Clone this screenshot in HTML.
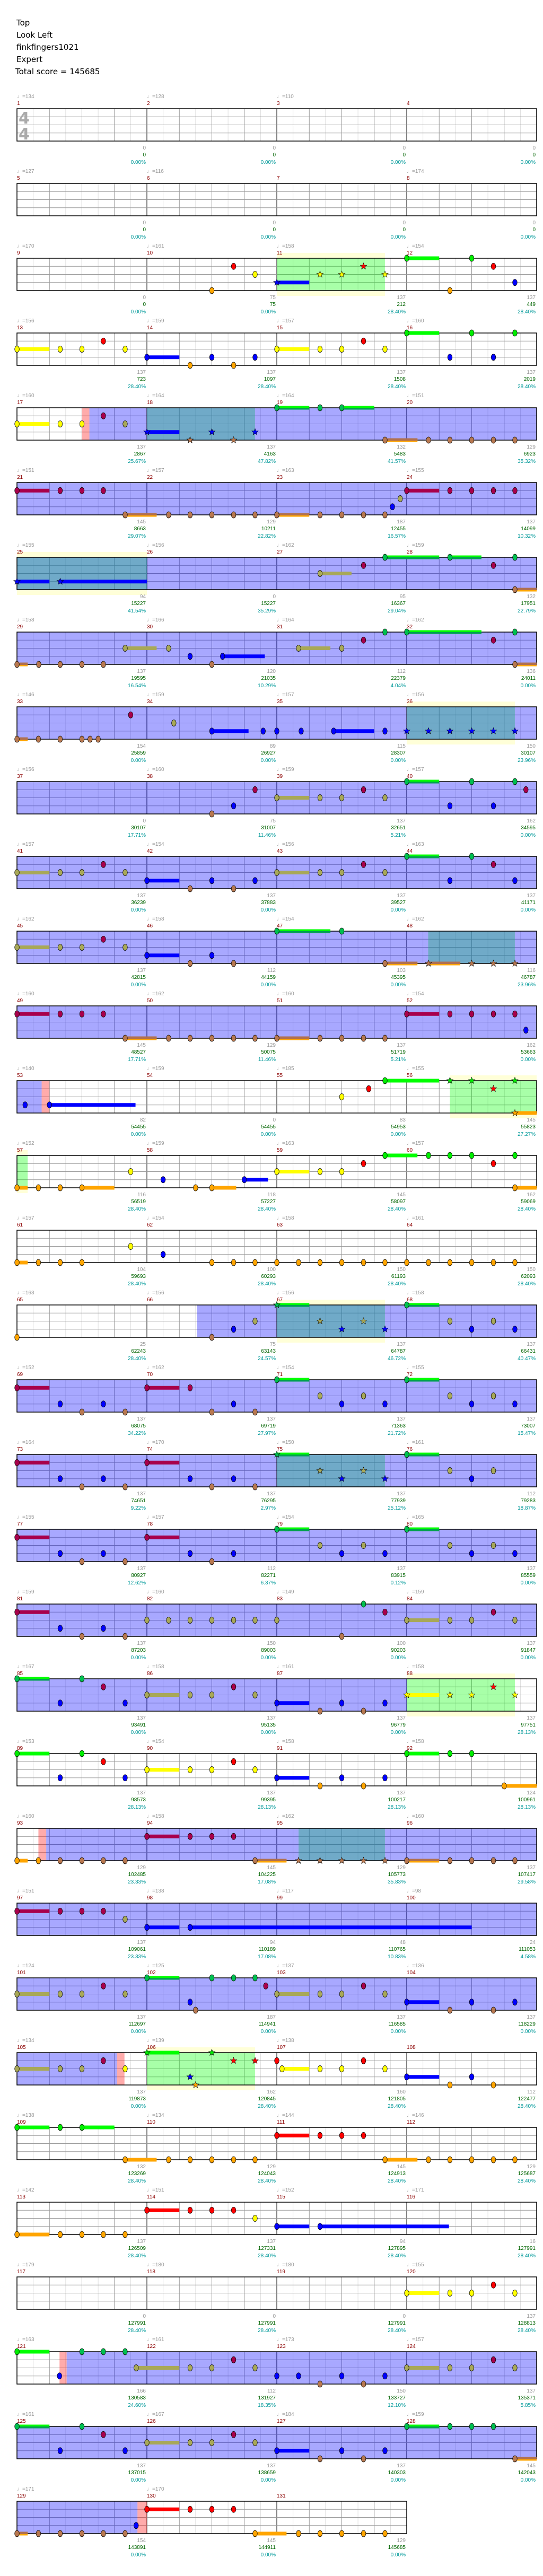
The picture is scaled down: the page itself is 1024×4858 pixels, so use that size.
<!DOCTYPE html>
<html><head><meta charset="utf-8">
<style>
html,body{margin:0;padding:0;background:#fff;}
#hdr{position:absolute;left:31px;top:32px;font-family:"DejaVu Sans","Liberation Sans",sans-serif;font-size:15px;line-height:23px;color:#000;}
svg{position:absolute;left:0;top:0;}
</style></head>
<body>
<div id="hdr">Top<br>Look Left<br>finkfingers1021<br>Expert<br><span style="margin-left:-2px">Total score = 145685</span></div>
<svg id="s" width="1024" height="4858" xmlns="http://www.w3.org/2000/svg" font-family="Liberation Sans, sans-serif"></svg>
<script>
var R=[
{t:[134,128,110,0],g:[0,0,0,0],s:[0,0,0,0],p:["0.00%","0.00%","0.00%","0.00%"],bg:[],n:""},
{t:[127,116,0,174],g:[0,0,0,0],s:[0,0,0,0],p:["0.00%","0.00%","0.00%","0.00%"],bg:[],n:""},
{t:[170,161,158,154],g:[0,75,137,137],s:[0,75,212,449],p:["0.00%","0.00%","28.40%","28.40%"],bg:[["gy",8,11.33]],n:"o6 r6.67 y7.33 *b8-9 *y9.33 *y10 *r10.67 *y11.33 g12-13 o13.33 g14 r14.67 b15.33"},
{t:[156,159,157,160],g:[137,137,137,137],s:[723,1097,1508,2019],p:["28.40%","28.40%","28.40%","28.40%"],bg:[],n:"y0-1 y1.33 y2 r2.66 y3.33 b4-5 o5.33 b6 o6.67 b7.33 y8-9 y9.33 y10 r10.67 y11.33 g12-13 b13.33 g14 b14.67 g15.33"},
{t:[160,164,164,151],g:[137,137,132,129],s:[2867,4163,5483,6923],p:["25.67%","47.82%","41.57%","35.32%"],bg:[["p",2,2.23],["b",2.23,16],["t",4,7.33]],n:"y0-1 y1.33 y2 r2.66 y3.33 *b4-5 *o5.33 *b6 *o6.67 *b7.33 g8-9 g9.33 g10-11 o11.33-12.33 o12.67 o13.33 o14 o14.67 o15.33"},
{t:[151,157,163,155],g:[145,129,187,137],s:[8663,10211,12455,14099],p:["29.07%","22.82%","16.57%","10.32%"],bg:[["b",0,16]],n:"r0-1 r1.33 r2 r2.66 o3.33-4.3 o4.67 o5.33 o6 o6.67 o7.33 o8-9 o9.33 o10 o10.67 o11.33 b11.56 y11.8 r12-13 r13.33 r14 r14.67 r15.33"},
{t:[155,156,162,159],g:[94,0,95,132],s:[15227,15227,16367,17951],p:["41.54%","35.29%","29.04%","22.79%"],bg:[["b",0,16],["ty",0,4]],n:"*b0-1 *b1.33-4 y9.33-10.3 r10.67 g11.33-13 g13.33-14.3 r14.67 g15.33 o15.33-16"},
{t:[158,166,164,162],g:[137,120,112,136],s:[19595,21035,22379,24011],p:["16.54%","10.29%","4.04%","0.00%"],bg:[["b",0,16]],n:"o0-0.33 o0.67 o1.33 o2 o2.66 y3.33-4.3 y4.67 b5.33 o6 b6.33-7.63 y8.67-9.65 y10 r10.67 g11.33 g12-14.3 r14.67 g15.33 o15.33-16"},
{t:[146,159,157,156],g:[154,89,115,150],s:[25859,26927,28307,30107],p:["0.00%","0.00%","0.00%","23.96%"],bg:[["b",0,16],["ty",12,15.33]],n:"o0-0.33 o0.66 o1.33 o2 o2.25 o2.5 r3.5 y4.83 b6-7.13 b7.58 b8 b8.75 b9.75-11 b11.33 *b12 *b12.67 *b13.33 *b14 *b14.67 *b15.33"},
{t:[156,160,159,157],g:[0,75,137,162],s:[30107,31007,32651,34595],p:["17.71%","11.46%","5.21%","0.00%"],bg:[["b",0,16]],n:"o6 b6.67 r7.33 y8-9 y9.33 y10 r10.67 y11.33 g12-13 b13.33 g14 b14.67 g15.33 r15.67"},
{t:[157,154,156,163],g:[137,137,137,137],s:[36239,37883,39527,41171],p:["0.00%","0.00%","0.00%","0.00%"],bg:[["b",0,16]],n:"y0-1 y1.33 y2 r2.66 y3.33 b4-5 o5.33 b6 o6.67 b7.33 y8-9 y9.33 y10 r10.67 y11.33 g12-13 b13.33 g14 r14.67 b15.33"},
{t:[162,158,154,162],g:[137,112,103,116],s:[42815,44159,45395,46787],p:["0.00%","0.00%","0.00%","23.96%"],bg:[["b",0,16],["t",12.66,15.33]],n:"y0-1 y1.33 y2 r2.66 y3.33 b4-5 o5.33 b6 o6.67 g8-9.65 g10 o11.33-12.33 *o12.67-13.65 *o14 *o14.67 *o15.33"},
{t:[160,162,160,154],g:[145,129,137,162],s:[48527,50075,51719,53663],p:["17.71%","11.46%","5.21%","0.00%"],bg:[["b",0,16]],n:"r0-1 r1.33 r2 r2.66 o3.33-4.3 o4.67 o5.33 o6 o6.67 o7.33 o8-9 o9.33 o10 o10.67 o11.33 r12-13 r13.33 r14 r14.67 r15.33 b15.67"},
{t:[140,159,185,155],g:[82,0,83,145],s:[54455,54455,54953,55823],p:["0.00%","0.00%","0.00%","27.27%"],bg:[["b",0,0.76],["p",0.76,1],["gy",13.33,16]],n:"b0.25 b1-3.65 y10 r10.83 g11.33-13 *g13.33 *g14 *r14.67 *g15.33 *o15.33-16"},
{t:[152,159,163,157],g:[116,118,145,162],s:[56519,57227,58097,59069],p:["28.40%","28.40%","28.40%","28.40%"],bg:[["gy",0,0.33]],n:"o0-0.33 o0.66 o1.33 o2-3 y3.5 b4.5 o5.5 o6-6.75 b7-7.73 y8-9 y9.33 y10 r10.67 g11.33-12.33 g12.67 g13.33 g14 r14.67 g15.33 o15.33-16"},
{t:[157,154,158,161],g:[104,100,150,150],s:[59693,60293,61193,62093],p:["28.40%","28.40%","28.40%","28.40%"],bg:[],n:"o0-0.33 o0.66 o1.33 o2 y3.5 b4.5 o6 o6.67 o7.33 o8 o8.67 o9.33 o10 o10.67 o11.33 o12 o12.67 o13.33 o14 o14.67 o15.33"},
{t:[163,156,156,158],g:[25,75,137,137],s:[62243,63143,64787,66431],p:["28.40%","24.57%","46.72%","40.47%"],bg:[["b",5.54,16],["ty",8,11.33]],n:"o0 o6 b6.67 y7.33 *g8-9 *y9.33 *b10 *y10.67 *b11.33 g12-13 y13.33 b14 y14.67 b15.33"},
{t:[152,162,154,155],g:[137,137,137,137],s:[68075,69719,71363,73007],p:["34.22%","27.97%","21.72%","15.47%"],bg:[["b",0,16]],n:"r0-1 b1.33 o2 b2.66 o3.33 r4-5 r5.33 o6 b6.67 o7.33 g8-9 y9.33 b10 y10.67 b11.33 g12-13 y13.33 b14 y14.67 b15.33"},
{t:[164,170,150,161],g:[137,137,137,112],s:[74651,76295,77939,79283],p:["9.22%","2.97%","25.12%","18.87%"],bg:[["b",0,16],["t",8,11.33]],n:"r0-1 b1.33 o2 b2.66 o3.33 r4-5 b5.33 o6 b6.67 o7.33 *g8-9 *y9.33 *b10 *y10.67 *b11.33 g12-13 y13.33 b14 y14.67"},
{t:[155,157,154,165],g:[137,112,137,137],s:[80927,82271,83915,85559],p:["12.62%","6.37%","0.12%","0.00%"],bg:[["b",0,16]],n:"r0-1 b1.33 o2 b2.66 o3.33 r4-5 b5.33 o6 b6.67 g8-9 y9.33 b10 y10.67 b11.33 g12-13 y13.33 b14 y14.67 b15.33"},
{t:[159,160,149,159],g:[137,150,100,137],s:[87203,89003,90203,91847],p:["0.00%","0.00%","0.00%","0.00%"],bg:[["b",0,16]],n:"r0-1 b1.33 o2 b2.66 o3.33 y4 y4.67 y5.33 y6 y6.67 y7.33 y8 o10 g10.67 r11.33 y12-13 y13.33 y14 r14.67 y15.33"},
{t:[167,158,161,158],g:[137,137,137,137],s:[93491,95135,96779,97751],p:["0.00%","0.00%","0.00%","28.13%"],bg:[["b",0,12],["gy",12,15.33]],n:"g0-1 b1.33 g2 r2.66 b3.33 y4-5 y5.33 y6 r6.67 y7.33 b8-9 o9.33 b10 o10.67 b11.33 *y12-13 *y13.33 *y14 *r14.67 *y15.33"},
{t:[153,154,158,158],g:[137,137,137,124],s:[98573,99395,100217,100961],p:["28.13%","28.13%","28.13%","28.13%"],bg:[],n:"g0-1 b1.33 g2 r2.66 b3.33 y4-5 y5.33 y6 r6.67 y7.33 b8-9 o9.33 b10 o10.67 b11.33 g12-13 g13.33 g14 o15-16"},
{t:[160,158,162,160],g:[129,145,129,137],s:[102485,104225,105773,107417],p:["23.33%","17.08%","35.83%","29.58%"],bg:[["p",0.66,0.9],["b",0.9,16],["t",8.67,11.33]],n:"o0-0.33 o0.66 o1.33 o2 o2.66 o3.33 r4-5 r5.33 r6 r6.67 o7.33-8.3 *o8.67 *o9.33 *o10 *o10.67 *o11.33 o12-13 o13.33 o14 o14.67 o15.33"},
{t:[151,138,117,98],g:[137,94,48,24],s:[109061,110189,110765,111053],p:["23.33%","17.08%","10.83%","4.58%"],bg:[["b",0,16]],n:"r0-1 r1.33 r2 r2.66 y3.33 b4-5 b5.33-14"},
{t:[124,125,137,136],g:[137,187,137,137],s:[112697,114941,116585,118229],p:["0.00%","0.00%","0.00%","0.00%"],bg:[["b",0,16]],n:"y0-1 y1.33 y2 r2.66 y3.33 g4-5 b5.33 o5.5 g6 g6.67 g7.33 r7.66 y8-9 y9.33 y10 r10.67 y11.33 b12-13 o13.33 b14 o14.67 b15.33"},
{t:[134,139,138,0],g:[137,162,160,112],s:[119873,120845,121805,122477],p:["0.00%","28.40%","28.40%","28.40%"],bg:[["b",0,3.08],["p",3.08,3.31],["gy",4,7.33]],n:"y0-1 y1.33 y2 r2.66 y3.33 *g4-5 *b5.33 *o5.5 *g6 *r6.67 *r7.33 r8 y8.16-9 y9.33 y10 r10.67 y11.33 b12-13 o13.33 b14 o14.67"},
{t:[138,134,144,146],g:[132,129,145,129],s:[123269,124043,124913,125687],p:["28.40%","28.40%","28.40%","28.40%"],bg:[],n:"g0-1 g1.33 g2-3 o3.33-4.3 o4.67 o5.33 o6 o6.67 o7.33 r8-9 r9.33 r10 r10.67 o11.33-12.33 o12.67 o13.33 o14 o14.67 o15.33"},
{t:[142,151,152,171],g:[137,137,94,16],s:[126509,127331,127895,127991],p:["28.40%","28.40%","28.40%","28.40%"],bg:[],n:"o0-1 o1.33 o2 o2.66 o3.33 r4-5 r5.33 r6 r6.67 y7.33 b8-9 b9.33-13.3"},
{t:[179,180,180,155],g:[0,0,0,137],s:[127991,127991,127991,128813],p:["28.40%","28.40%","28.40%","28.40%"],bg:[],n:"y12-13 y13.33 y14 r14.67 y15.33"},
{t:[163,161,173,157],g:[166,112,150,137],s:[130583,131927,133727,135371],p:["24.60%","18.35%","12.10%","5.85%"],bg:[["p",1.31,1.53],["b",1.53,16]],n:"g0-1 b1.31 g2 g2.66 g3.33 y3.67-5 y5.33 y6 r6.67 y7.33 b8 b8.67 o9.33 b10 o10.67 b11.33 y12-13 y13.33 y14 r14.67 y15.33"},
{t:[161,167,184,159],g:[137,137,137,145],s:[137015,138659,140303,142043],p:["0.00%","0.00%","0.00%","0.00%"],bg:[["b",0,16]],n:"g0-1 b1.33 g2 r2.66 b3.33 y4-5 y5.33 y6 r6.67 y7.33 b8-9 o9.33 b10 o10.67 b11.33 g12-13 g13.33 g14 g14.67 o15.33-16"},
{t:[171,170,0],g:[154,145,129],s:[143891,144911,145685],p:["0.00%","0.00%","0.00%"],bg:[["b",0,3.71],["p",3.71,4]],n:"o0-0.33 o0.66 o1.33 o2 o2.66 o3.33 b3.67 r4-5 r5.33 r6 r6.67 o7.33-8.3 o8.67 o9.33 o10 o10.67 o11.33"}
];
var S=document.getElementById('s'),h=[];
var X0=32,BW=61.25,LH=15.25;
var col={g:"#00ee00",r:"#ff0000",y:"#ffff00",b:"#0000ff",o:"#ffa500"};
var tint={g:"#00c050",r:"#a8004c",y:"#a8a858",b:"#0000ff",o:"#b87850"};
var lane={g:0,r:1,y:2,b:3,o:4};
function star(cx,cy,r){var p=[];for(var i=0;i<10;i++){var a=-Math.PI/2+i*Math.PI/5,rr=i%2?r*0.42:r;p.push((cx+rr*Math.cos(a)).toFixed(1)+","+(cy+rr*Math.sin(a)).toFixed(1));}return p.join(" ");}
R.forEach(function(row,ri){
 var ty=181+141*ri, y0=ty+24, H=61, nm=row.t.length, W=nm*245, x1=X0+W;
 // yellow boxes
 row.bg.forEach(function(b){if(b[0]=="gy"||b[0]=="ty"){h.push('<rect x="'+(X0+b[1]*BW)+'" y="'+(y0-10)+'" width="'+((b[2]-b[1])*BW)+'" height="'+(H+20)+'" fill="#ffffd8"/>');}});
 h.push('<rect x="'+X0+'" y="'+y0+'" width="'+W+'" height="'+H+'" fill="#fff"/>');
 for(var i=1;i<nm*8;i++){var x=X0+i*30.625,c=i%8==0?"#000":(i%2==0?"#999":"#ddd");h.push('<line x1="'+x+'" y1="'+y0+'" x2="'+x+'" y2="'+(y0+H)+'" stroke="'+c+'" stroke-width="1"/>');}
 for(var k=1;k<4;k++){var y=y0+k*LH;h.push('<line x1="'+X0+'" y1="'+y+'" x2="'+x1+'" y2="'+y+'" stroke="#999" stroke-width="1"/>');}
 var fills={b:"rgba(0,0,255,0.34)",t:"rgba(16,113,163,0.6)",ty:"rgba(16,113,163,0.6)",gy:"rgba(0,255,0,0.34)",p:"rgba(255,0,0,0.33)"};
 var blues=[];
 row.bg.forEach(function(b){if(b[0]=="b"||b[0]=="t"||b[0]=="ty")blues.push(b);});
 row.bg.forEach(function(b){var f=fills[b[0]];if(b[0]=="t"||b[0]=="ty"){/* teal over blue: replace */ f="rgba(16,113,163,0.6)";}
  var xx=X0+b[1]*BW,ww=(b[2]-b[1])*BW;
  if(b[0]=="t"||b[0]=="ty"){h.push('<rect x="'+xx+'" y="'+y0+'" width="'+ww+'" height="'+H+'" fill="#fff"/>');
   for(var i=Math.ceil(b[1]*2);i<=Math.floor(b[2]*2);i++){var x=X0+i*30.625,c=i%8==0?"#000":(i%2==0?"#999":"#ddd");h.push('<line x1="'+x+'" y1="'+y0+'" x2="'+x+'" y2="'+(y0+H)+'" stroke="'+c+'"/>');}
   for(var k=1;k<4;k++){var y=y0+k*LH;h.push('<line x1="'+xx+'" y1="'+y+'" x2="'+(xx+ww)+'" y2="'+y+'" stroke="#999"/>');}}
  h.push('<rect x="'+xx+'" y="'+y0+'" width="'+ww+'" height="'+H+'" fill="'+f+'"/>');});
 h.push('<rect x="'+X0+'" y="'+y0+'" width="'+W+'" height="'+H+'" fill="none" stroke="#000" stroke-width="1.5"/>');
 if(ri==0){h.push('<text x="35" y="'+(y0+28)+'" font-size="30" font-weight="bold" fill="#aaa" font-family="DejaVu Sans, sans-serif">4</text><text x="35" y="'+(y0+58)+'" font-size="30" font-weight="bold" fill="#aaa" font-family="DejaVu Sans, sans-serif">4</text>');}
 // labels
 for(var m=0;m<nm;m++){var mx=X0+m*245;
  if(row.t[m])h.push('<text x="'+mx+'" y="'+(ty+4)+'" font-size="10" fill="#999">\u2669='+row.t[m]+'</text>');
  h.push('<text x="'+mx+'" y="'+(ty+17)+'" font-size="10" fill="#8b0000">'+(ri*4+m+1)+'</text>');
  var ex=mx+243;
  h.push('<text x="'+ex+'" y="'+(y0+77)+'" font-size="10" fill="#999" text-anchor="end">'+row.g[m]+'</text>');
  h.push('<text x="'+ex+'" y="'+(y0+90)+'" font-size="10" fill="#006400" text-anchor="end">'+row.s[m]+'</text>');
  h.push('<text x="'+ex+'" y="'+(y0+104)+'" font-size="10" fill="#009999" text-anchor="end">'+row.p[m]+'</text>');}
 // notes
 if(row.n){row.n.split(" ").forEach(function(tok){
  var st=tok[0]=="*";if(st)tok=tok.slice(1);
  var L=tok[0],parts=tok.slice(1).split("-"),b=parseFloat(parts[0]),e=parts[1]?parseFloat(parts[1]):null;
  var inb=blues.some(function(q){return b>=q[1]-0.01&&b<q[2]-0.01;});
  var c=inb?tint[L]:col[L];
  var x=X0+b*BW,y=y0+lane[L]*LH;
  if(e!==null){var ex2=X0+e*BW;
   if(L=="g"){h.push('<rect x="'+x+'" y="'+(y-3.5)+'" width="'+(ex2-x)+'" height="7" fill="#00ff00"/>');if(inb)h.push('<rect x="'+x+'" y="'+y+'" width="'+(ex2-x)+'" height="3.5" fill="#00a050"/>');}
   else if(L=="o"&&inb){h.push('<rect x="'+x+'" y="'+(y-3.5)+'" width="'+(ex2-x)+'" height="7" fill="#ffa500"/><rect x="'+x+'" y="'+(y-3.5)+'" width="'+(ex2-x)+'" height="4.5" fill="#b07050"/>');}
   else h.push('<rect x="'+x+'" y="'+(y-3.5)+'" width="'+(ex2-x)+'" height="7" fill="'+c+'"/>');}
  if(st)h.push('<polygon points="'+star(x,y,6.5)+'" fill="'+c+'" stroke="#000" stroke-width="0.6"/>');
  else h.push('<ellipse cx="'+x+'" cy="'+y+'" rx="4.3" ry="6" fill="'+c+'" stroke="#000" stroke-width="0.7"/>');
 });}
});
S.innerHTML=h.join("");
</script>
</body></html>
